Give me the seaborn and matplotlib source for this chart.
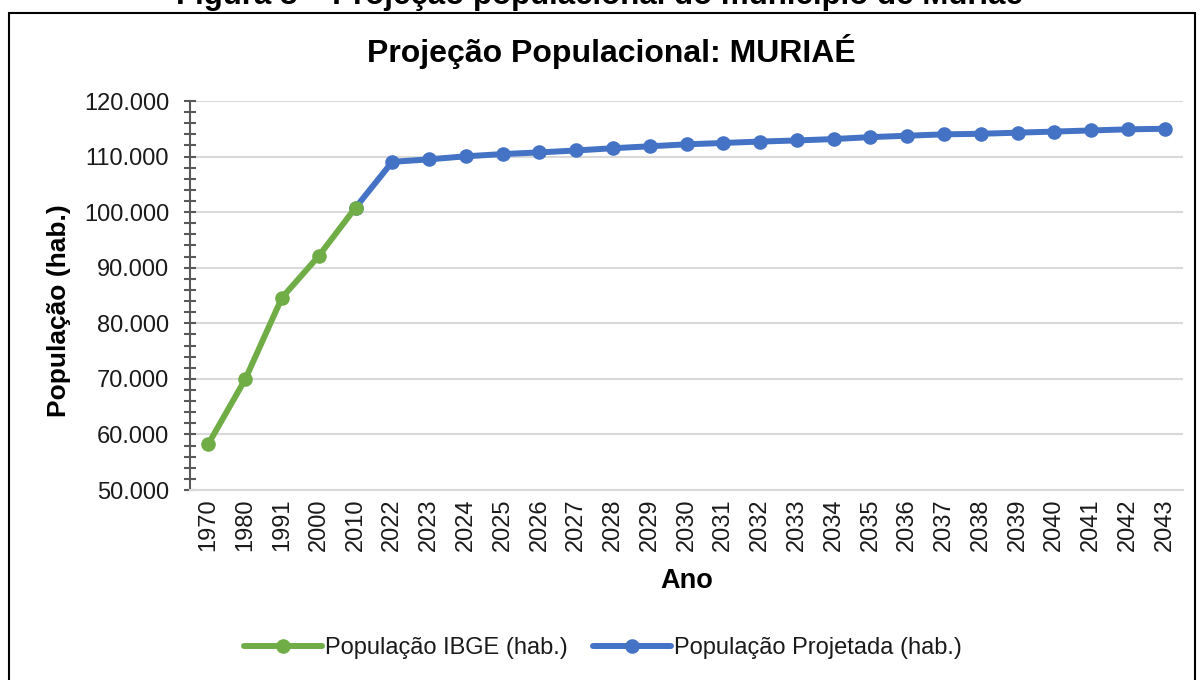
import matplotlib
matplotlib.use("Agg")
import matplotlib.pyplot as plt
import matplotlib.ticker as mticker
from matplotlib.patches import Rectangle
import seaborn as sns
import pandas as pd

# ---- data ----
anos_ibge = ["1970", "1980", "1991", "2000", "2010"]
pop_ibge = [58300, 69900, 84600, 92100, 100800]

anos_proj = ["2010", "2022", "2023", "2024", "2025", "2026", "2027", "2028", "2029",
             "2030", "2031", "2032", "2033", "2034", "2035", "2036", "2037", "2038",
             "2039", "2040", "2041", "2042", "2043"]
pop_proj = [100800, 109050, 109500, 110050, 110450, 110750, 111100, 111500, 111850,
            112200, 112450, 112700, 112900, 113150, 113500, 113750, 114000, 114100,
            114300, 114500, 114700, 114900, 115000]

title = "Projeção Populacional: MURIAÉ"
caption = "Figura 8 – Projeção populacional do município de Muriaé"
label_ibge = "População IBGE (hab.)"
label_proj = "População Projetada (hab.)"

GREEN = "#70AD47"
BLUE = "#4472C4"
GRID = "#D9D9D9"
AXC = "#595959"

sns.set_theme(style="white")
plt.rcParams["font.family"] = ["Liberation Sans", "DejaVu Sans"]

df_ibge = pd.DataFrame({"Ano": anos_ibge, "Pop": pop_ibge})
df_proj = pd.DataFrame({"Ano": anos_proj, "Pop": pop_proj})
# category order
all_years = list(dict.fromkeys(anos_ibge + anos_proj))

fig = plt.figure(figsize=(12, 6.8), dpi=100)
ax = fig.add_axes([190 / 1200, 1 - 490 / 680, (1183 - 190) / 1200, (490 - 101) / 680])

# establish categorical order
ax.xaxis.update_units(all_years)

sns.lineplot(data=df_proj, x="Ano", y="Pop", ax=ax, color=BLUE, linewidth=4.3,
             marker="o", markersize=10.5, markeredgewidth=0, label=label_proj,
             sort=False, zorder=3)
sns.lineplot(data=df_ibge, x="Ano", y="Pop", ax=ax, color=GREEN, linewidth=4.3,
             marker="o", markersize=10.5, markeredgewidth=0, label=label_ibge,
             sort=False, zorder=4)

ax.set_xlim(-0.5, len(all_years) - 0.5)
ax.set_ylim(50000, 120000)
ax.yaxis.set_major_locator(mticker.MultipleLocator(10000))
ax.yaxis.set_minor_locator(mticker.MultipleLocator(2000))
ax.yaxis.set_major_formatter(mticker.FuncFormatter(lambda v, p: f"{int(v):,}".replace(",", ".")))

ax.grid(axis="y", which="major", color=GRID, linewidth=1.5)
ax.grid(axis="x", visible=False)
ax.set_axisbelow(True)

for s in ["top", "right"]:
    ax.spines[s].set_visible(False)
ax.spines["left"].set_color(AXC)
ax.spines["left"].set_linewidth(1.5)
ax.spines["bottom"].set_color(GRID)
ax.spines["bottom"].set_linewidth(1.5)

ax.tick_params(axis="y", which="major", direction="inout", length=8, width=1.5,
               color=AXC, labelsize=17, labelcolor="#1a1a1a", pad=11, left=True)
ax.tick_params(axis="y", which="minor", direction="inout", length=8, width=1.5,
               color=AXC, left=True)
ax.tick_params(axis="x", length=0, labelsize=17, labelcolor="#1a1a1a", pad=6, rotation=90)

ax.set_xlabel("Ano", fontsize=19.5, fontweight="bold", color="black")
ax.xaxis.set_label_coords(0.5, -0.2)
ax.set_ylabel("População (hab.)", fontsize=19, fontweight="bold", color="black")
ax.yaxis.set_label_coords(-0.12, 0.46)

fig.text(611 / 1200, 1 - 62 / 680, title, ha="center", va="baseline",
         fontsize=23, fontweight="bold", color="black")

# caption (cut off at the top, as in the source)
fig.text(600 / 1200, 1 - 4 / 680, caption, ha="center", va="baseline",
         fontsize=22.5, fontweight="bold", color="black")

# outer frame
fig.patches.append(Rectangle((9 / 1200, -0.1), (1195 - 9) / 1200, 1.1 - 13 / 680,
                             transform=fig.transFigure, fill=False,
                             edgecolor="black", linewidth=1.5))

handles, labels = ax.get_legend_handles_labels()
order = [labels.index(label_ibge), labels.index(label_proj)]
leg = ax.legend([handles[i] for i in order], [labels[i] for i in order],
                loc="center", bbox_to_anchor=(603 / 1200, 1 - 648 / 680),
                bbox_transform=fig.transFigure, ncol=2, frameon=False,
                fontsize=17, handlelength=3.3, handletextpad=0.1, columnspacing=1.1)
for t in leg.get_texts():
    t.set_color("#1a1a1a")

fig.savefig("out.png", dpi=100, facecolor="white")
